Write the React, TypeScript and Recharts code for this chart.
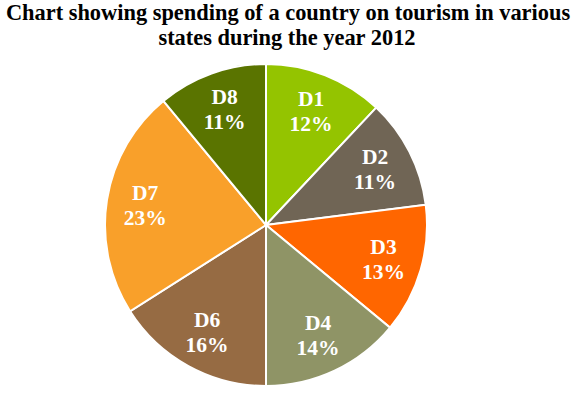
import React from "react";
import { PieChart, Pie, Cell } from "recharts";

const states = ["D1", "D2", "D3", "D4", "D6", "D7", "D8"];
const shares = [12, 11, 13, 14, 16, 23, 11];
const colors = ["#94c400", "#706555", "#ff6600", "#8f9466", "#966b43", "#f9a02a", "#5a7400"];
const titleLines = [
  "Chart showing spending of a country on tourism in various",
  "states during the year 2012",
];

const data = states.map((name, i) => ({ name, value: shares[i] }));
const FONT = "'Liberation Serif', 'Times New Roman', serif";
const RAD = Math.PI / 180;

const renderLabel = (props: any) => {
  const { cx, cy, midAngle, outerRadius, name, value } = props;
  const r = outerRadius * 0.76;
  const x = cx + r * Math.cos(-midAngle * RAD);
  const y = cy + r * Math.sin(-midAngle * RAD);
  return (
    <text
      x={x}
      y={y}
      fill="#ffffff"
      textAnchor="middle"
      fontFamily={FONT}
      fontWeight="bold"
      fontSize={21.5}
    >
      <tspan x={x} y={y - 5.5}>{name}</tspan>
      <tspan x={x} y={y + 19.5}>{`${value}%`}</tspan>
    </text>
  );
};

export default function App() {
  return (
    <div style={{ position: "absolute", left: 0, top: 0, width: 588, height: 396, background: "#fff" }}>
      <svg width={588} height={60} style={{ position: "absolute", left: 0, top: 0 }}>
        <text x={288} y={20} textAnchor="middle" fontFamily={FONT} fontWeight="bold" fontSize={22.4} fill="#000">
          {titleLines[0]}
        </text>
        <text x={287} y={45} textAnchor="middle" fontFamily={FONT} fontWeight="bold" fontSize={22.4} fill="#000">
          {titleLines[1]}
        </text>
      </svg>
      <div style={{ position: "absolute", left: 0, top: 0 }}>
        <PieChart width={588} height={396} margin={{ top: 0, right: 0, bottom: 0, left: 0 }}>
          <Pie
            data={data}
            dataKey="value"
            nameKey="name"
            cx={266}
            cy={225}
            outerRadius={161}
            startAngle={90}
            endAngle={-270}
            stroke="#ffffff"
            strokeWidth={2}
            label={renderLabel}
            labelLine={false}
            isAnimationActive={false}
          >
            {data.map((d, i) => (
              <Cell key={d.name} fill={colors[i]} />
            ))}
          </Pie>
        </PieChart>
      </div>
    </div>
  );
}
